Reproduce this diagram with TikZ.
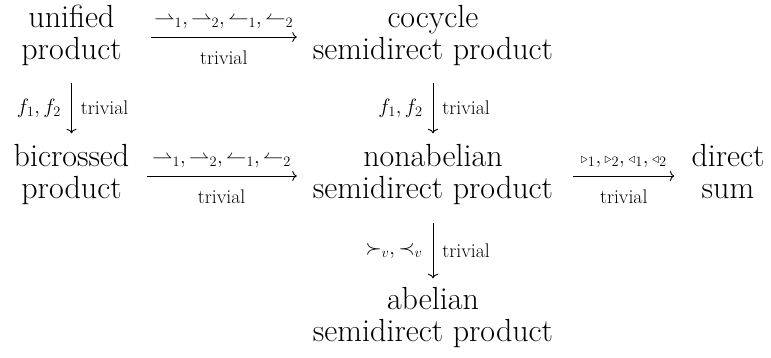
\documentclass[tikz,border=0pt]{standalone}
\usetikzlibrary{calc,arrows.meta}
\newcommand{\ostrut}{\rule[-9.75pt]{0pt}{32.5pt}}
\tikzset{
  obj/.style={align=center, inner sep=0pt, font=\rmfamily\fontsize{32}{32.5}\selectfont},
  lab/.style={font=\rmfamily\fontsize{19.7}{22}\selectfont, inner sep=0pt},
  arr/.style={-{To[length=4.5pt,width=10pt]}, line width=0.9pt},
}
\begin{document}
\begin{tikzpicture}[x=1pt,y=-1pt]
\useasboundingbox (0,0) rectangle (771,358);
\node[obj] (u) at (71.5,37) {\ostrut unified\\product\ostrut};
\node[obj] (c) at (433,37) {\ostrut cocycle\\semidirect product\ostrut};
\node[obj] (b) at (71.5,176) {\ostrut bicrossed\\product\ostrut};
\node[obj] (n) at (433,176) {\ostrut nonabelian\\semidirect product\ostrut};
\node[obj] (d) at (728,176) {\ostrut direct\\sum\ostrut};
\node[obj] (a) at (433,319) {\ostrut abelian\\semidirect product\ostrut};

\draw[arr] ([xshift=29pt]u.east) -- ([xshift=-16pt]c.west)
  node[lab, midway, above=8pt] {$\rightharpoonup_1,\rightharpoonup_2,\leftharpoonup_1,\leftharpoonup_2$}
  node[lab, midway, below=13pt] {trivial};
\draw[arr] ([xshift=17pt]b.east) -- ([xshift=-16pt]n.west)
  node[lab, midway, above=8pt] {$\rightharpoonup_1,\rightharpoonup_2,\leftharpoonup_1,\leftharpoonup_2$}
  node[lab, midway, below=13pt] {trivial};
\draw[arr] ([xshift=20pt]n.east) -- ([xshift=-17pt]d.west)
  node[lab, midway, above=8pt] {${\scriptstyle\triangleright}_1,{\scriptstyle\triangleright}_2,{\scriptstyle\triangleleft}_1,{\scriptstyle\triangleleft}_2$}
  node[lab, midway, below=13pt] {trivial};

\draw[arr] ([yshift=-13pt]u.south) -- ([yshift=10pt]b.north)
  node[lab, midway, left=10pt] {$f_1,f_2$}
  node[lab, midway, right=9pt] {trivial};
\draw[arr] ([yshift=-13pt]c.south) -- ([yshift=10pt]n.north)
  node[lab, midway, left=10pt] {$f_1,f_2$}
  node[lab, midway, right=9pt] {trivial};
\draw[arr] ([yshift=-14pt]n.south) -- ([yshift=8pt]a.north)
  node[lab, midway, left=10pt] {$\succ_v,\prec_v$}
  node[lab, midway, right=9pt] {trivial};
\end{tikzpicture}
\end{document}
